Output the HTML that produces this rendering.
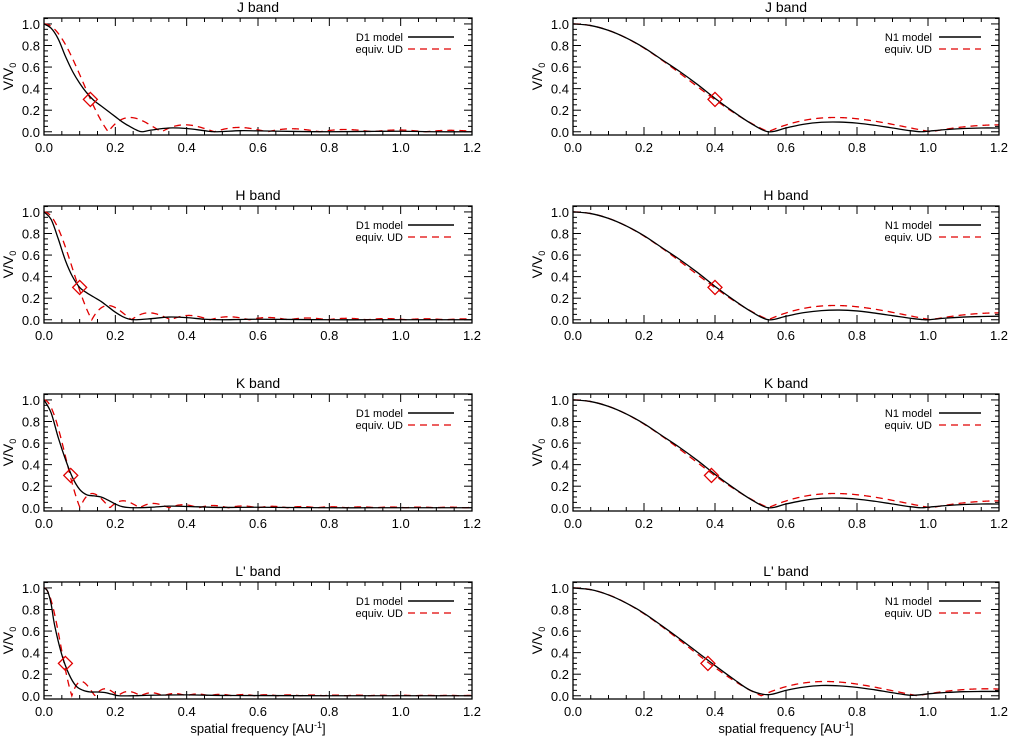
<!DOCTYPE html>
<html><head><meta charset="utf-8">
<style>
html,body{margin:0;padding:0;background:#fff;}
svg{display:block;font-family:"Liberation Sans",sans-serif;}
</style></head>
<body>
<svg id="fig" width="1009" height="736" viewBox="0 0 1009 736"></svg>
<script>
// ---- data ----
const bandNames = ["J band","H band","K band","L' band"];
// left column (D1 model)
const d1X = [
 [0,0.02,0.04,0.06,0.08,0.10,0.12,0.14,0.16,0.18,0.20,0.22,0.24,0.26,0.275,0.3,0.35,0.4,0.45,0.48,0.55,0.6,0.7,0.8,0.9,1.0,1.1,1.2],
 [0,0.02,0.04,0.06,0.08,0.10,0.12,0.14,0.16,0.18,0.20,0.22,0.24,0.26,0.3,0.35,0.4,0.45,0.5,0.6,0.8,1.0,1.2],
 [0,0.02,0.04,0.06,0.08,0.10,0.12,0.14,0.16,0.18,0.20,0.22,0.25,0.3,0.35,0.4,0.5,0.6,0.8,1.0,1.2],
 [0,0.01,0.02,0.03,0.05,0.07,0.09,0.11,0.13,0.15,0.17,0.19,0.21,0.25,0.3,0.4,0.5,0.6,0.8,1.0,1.2]
];
const d1Y = [
 [1,0.96,0.86,0.70,0.56,0.45,0.36,0.29,0.24,0.19,0.14,0.09,0.05,0.015,0.0,0.015,0.035,0.03,0.01,0.0,0.01,0.008,0.003,0.0,0.003,0.005,0.0,0.0],
 [1,0.93,0.75,0.55,0.40,0.30,0.25,0.21,0.17,0.12,0.07,0.03,0.005,0.0,0.01,0.025,0.02,0.005,0.0,0.005,0.0,0.0,0.0],
 [1,0.88,0.65,0.45,0.28,0.17,0.12,0.11,0.10,0.07,0.035,0.01,0.0,0.005,0.015,0.012,0.003,0.005,0.0,0.0,0.0],
 [1,0.97,0.85,0.65,0.38,0.20,0.09,0.05,0.035,0.035,0.03,0.015,0.0,0.0,0.005,0.008,0.003,0.002,0.0,0.0,0.0]
];
const udNullLeft = [0.180,0.134,0.101,0.078];
const markerLeftX = [0.13,0.10,0.075,0.06];
const markerLeftY = [0.30,0.30,0.30,0.30];
// right column (N1 model)
const n1X = [0,0.05,0.1,0.15,0.2,0.25,0.3,0.35,0.4,0.45,0.5,0.55,0.6,0.65,0.7,0.75,0.8,0.85,0.9,0.95,0.98,1.0,1.05,1.1,1.15,1.2];
const n1Y = [
 [1,0.985,0.94,0.87,0.78,0.67,0.56,0.44,0.31,0.19,0.08,0.0,0.035,0.07,0.088,0.09,0.08,0.06,0.035,0.01,0.0,0.005,0.02,0.03,0.035,0.035],
 [1,0.985,0.94,0.87,0.78,0.67,0.56,0.44,0.31,0.19,0.08,0.0,0.033,0.066,0.085,0.09,0.082,0.062,0.038,0.014,0.003,0.0,0.015,0.025,0.03,0.033],
 [1,0.985,0.94,0.87,0.78,0.67,0.56,0.44,0.31,0.19,0.08,0.0,0.035,0.068,0.088,0.09,0.08,0.06,0.035,0.01,0.0,0.005,0.02,0.03,0.035,0.035],
 [1,0.984,0.935,0.86,0.765,0.65,0.53,0.405,0.28,0.16,0.05,0.01,0.05,0.08,0.095,0.092,0.078,0.055,0.028,0.005,0.01,0.018,0.03,0.038,0.04,0.04]
];
const udNullRight = [0.55,0.55,0.55,0.53];
const markerRightX = [0.40,0.40,0.39,0.38];
const markerRightY = [0.30,0.30,0.30,0.30];
const xTicks = ["0.0","0.2","0.4","0.6","0.8","1.0","1.2"];
const yTicks = ["0.0","0.2","0.4","0.6","0.8","1.0"];

// ---- drawing ----
const NS="http://www.w3.org/2000/svg";
const svg=document.getElementById('fig');
function mk(tag,attrs,parent){const e=document.createElementNS(NS,tag);for(const k in attrs)e.setAttribute(k,attrs[k]);(parent||svg).appendChild(e);return e;}
function J1(x){let s=0,N=200;for(let i=0;i<N;i++){const t=(i+0.5)*Math.PI/N;s+=Math.cos(t-x*Math.sin(t));}return s/N;}
function ud(f,f0){const x=3.8317*f/f0;if(x<1e-6)return 1;return Math.abs(2*J1(x)/x);}
function smooth(pts){let d="M"+pts[0][0]+","+pts[0][1];for(let i=0;i<pts.length-1;i++){const p0=pts[Math.max(0,i-1)],p1=pts[i],p2=pts[i+1],p3=pts[Math.min(pts.length-1,i+2)];const c1=[p1[0]+(p2[0]-p0[0])/6,p1[1]+(p2[1]-p0[1])/6],c2=[p2[0]-(p3[0]-p1[0])/6,p2[1]-(p3[1]-p1[1])/6];d+=" C"+c1[0].toFixed(2)+","+c1[1].toFixed(2)+" "+c2[0].toFixed(2)+","+c2[1].toFixed(2)+" "+p2[0].toFixed(2)+","+p2[1].toFixed(2);}return d;}

function panel(col,row){
  const left = col===0?44:573, right = col===0?472:999;
  const top = 18+row*188, bottom = top+117;
  const ymin=-0.03,ymax=1.055;
  const sx=v=>left+(v/1.2)*(right-left);
  const sy=v=>bottom-(v-ymin)/(ymax-ymin)*(bottom-top);
  const g=mk('g',{});
  
  
  const clipId='c'+col+row;
  const cp=mk('clipPath',{id:clipId},g);mk('rect',{x:left,y:top,width:right-left,height:bottom-top},cp);
  const t=mk('text',{x:(left+right)/2,y:top-6,'text-anchor':'middle','font-size':14},g);t.textContent=bandNames[row];
  
  const tk=mk('g',{stroke:'#000','stroke-width':1},g);
  for(let i=0;i<=24;i++){const v=i*0.05,x=sx(v),L=(i%4===0)?8:4;
    mk('line',{x1:x,y1:bottom,x2:x,y2:bottom-L},tk);mk('line',{x1:x,y1:top,x2:x,y2:top+L},tk);}
  for(let i=0;i<=21;i++){const v=i*0.05;const y=sy(v);if(y<top)continue;const L=(i%4===0)?8:4;
    mk('line',{x1:left,y1:y,x2:left+L,y2:y},tk);mk('line',{x1:right,y1:y,x2:right-L,y2:y},tk);}
  xTicks.forEach(s=>{const e=mk('text',{x:sx(parseFloat(s)),y:bottom+17,'text-anchor':'middle','font-size':13},g);e.textContent=s;
    });
  yTicks.forEach(s=>{const e=mk('text',{x:left-4,y:sy(parseFloat(s))+5,'text-anchor':'end','font-size':13},g);e.textContent=s;
    });
  const yl=mk('text',{x:0,y:0,transform:'translate('+(left-31)+','+((top+bottom)/2)+') rotate(-90)','text-anchor':'middle','font-size':14},g);
  yl.innerHTML='V/V<tspan font-size="9" dy="3">0</tspan>';
  
  const f0 = col===0?udNullLeft[row]:udNullRight[row];
  const up=[];for(let i=0;i<=600;i++){const f=i*0.002;up.push(sx(f).toFixed(2)+','+sy(ud(f,f0)).toFixed(2));}
  const r=mk('polyline',{points:up.join(' '),fill:'none',stroke:'#e00000','stroke-width':1.3,'stroke-dasharray':'7,5','clip-path':'url(#'+clipId+')'},g);
  
  const xs = col===0?d1X[row]:n1X, ys = col===0?d1Y[row]:n1Y[row];
  const pts=xs.map((x,i)=>[sx(x),sy(ys[i])]);
  const b=mk('path',{d:smooth(pts),fill:'none',stroke:'#000','stroke-width':1.3,'clip-path':'url(#'+clipId+')'},g);
  
  const mx=sx(col===0?markerLeftX[row]:markerRightX[row]), my=sy(col===0?markerLeftY[row]:markerRightY[row]);
  const m=mk('polygon',{points:`${mx},${my-7} ${mx+7},${my} ${mx},${my+7} ${mx-7},${my}`,fill:'none',stroke:'#e00000','stroke-width':1.3},g);
  
  mk('rect',{x:left,y:top,width:right-left,height:bottom-top,fill:'none',stroke:'#000','stroke-width':1.3},g);
  const lg=mk('g',{},g);
  
  const tx = col===0?403:932, l1 = col===0?408:939, l2 = col===0?454:981;
  const e1=mk('text',{x:tx,y:top+23,'text-anchor':'end','font-size':11},lg);e1.textContent=col===0?'D1 model':'N1 model';
  
  mk('line',{x1:l1,y1:top+19,x2:l2,y2:top+19,stroke:'#000','stroke-width':1.5},lg);
  const e2=mk('text',{x:tx,y:top+35,'text-anchor':'end','font-size':11},lg);e2.textContent='equiv. UD';
  
  mk('line',{x1:l1,y1:top+31,x2:l2,y2:top+31,stroke:'#e00000','stroke-width':1.3,'stroke-dasharray':'7,5'},lg);
}
for(let c=0;c<2;c++)for(let r=0;r<4;r++)panel(c,r);
[258,786].forEach(cx=>{const e=mk('text',{x:cx,y:733,'text-anchor':'middle','font-size':13});
  e.innerHTML='spatial frequency [AU<tspan font-size="9" dy="-5">-1</tspan><tspan dy="5">]</tspan>';
  });
</script>
</body></html>
